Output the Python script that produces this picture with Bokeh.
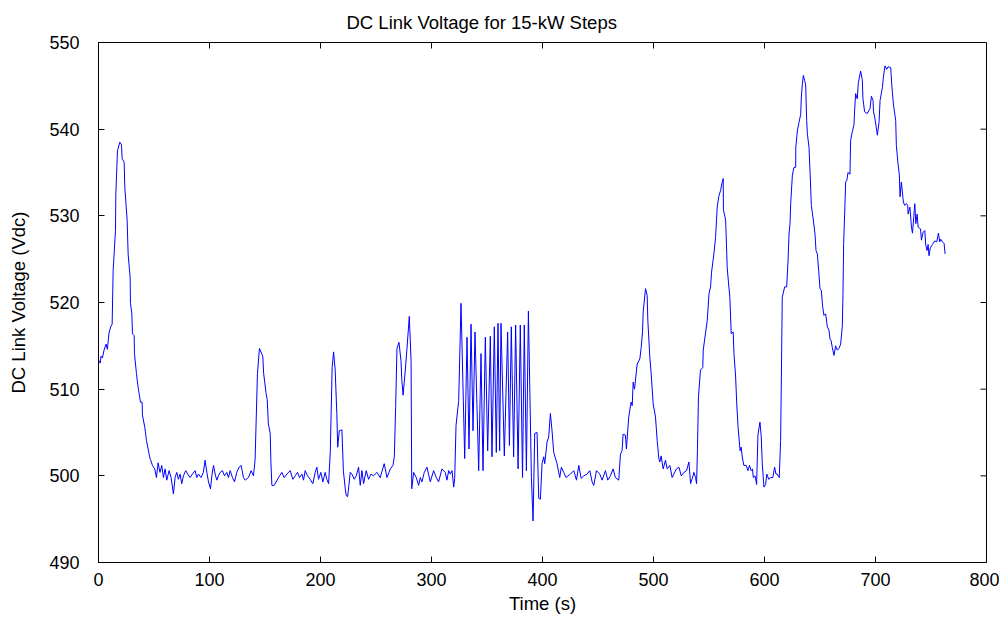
from bokeh.plotting import figure
from bokeh.models import Range1d, FixedTicker
from bokeh.embed import file_html
from bokeh.resources import INLINE

title_text = "DC Link Voltage for 15-kW Steps"
x_label = "Time (s)"
y_label = "DC Link Voltage (Vdc)"
x_ticks = [0, 100, 200, 300, 400, 500, 600, 700, 800]
y_ticks = [490, 500, 510, 520, 530, 540, 550]

time_s = [
    0.5, 1.5, 2.3, 3.5, 5.0, 6.8, 8.0, 9.5, 11.0, 12.3, 13.2, 15.3, 15.6, 17.1, 19.2, 20.7, 21.3, 23.1, 23.7, 25.8,
    26.7, 28.5, 28.8, 30.0, 30.6, 32.1, 32.4, 34.2, 35.7, 36.6, 37.8, 39.3, 39.6, 41.7, 43.2, 44.7, 46.4, 47.1, 48.6, 50.7,
    52.2, 53.7, 55.4, 57.0, 58.5, 60.0, 61.5, 63.6, 65.4, 67.5, 69.0, 70.5, 72.0, 73.5, 75.0, 76.5, 78.6, 80.4, 82.5, 84.6,
    87.0, 88.5, 90.0, 92.4, 94.5, 96.0, 97.6, 99.1, 100.9, 102.1, 103.6, 105.1, 106.6, 108.1, 109.6, 111.7, 113.5, 115.6, 117.1, 118.6,
    120.7, 122.5, 124.6, 126.7, 128.5, 130.6, 132.1, 135.1, 137.5, 139.6, 141.1, 143.2, 145.0, 148.0, 148.8, 151.0, 152.0, 153.0, 154.7, 155.3,
    156.2, 158.3, 162.2, 165.2, 167.3, 169.7, 172.7, 175.1, 177.2, 179.3, 181.1, 183.3, 184.7, 186.2, 188.3, 190.7, 193.1, 195.2, 196.7, 198.2,
    200.3, 202.1, 204.2, 205.7, 207.3, 208.8, 210.5, 211.8, 213.2, 214.7, 215.5, 216.9, 219.3, 220.6, 222.3, 223.2, 224.4, 225.6, 226.8, 228.3,
    230.4, 232.2, 234.3, 235.8, 237.3, 238.8, 241.2, 243.3, 245.4, 247.8, 250.8, 253.8, 257.4, 259.9, 262.9, 265.3, 266.5, 267.7, 268.9, 270.7,
    272.5, 273.3, 274.4, 276.4, 277.9, 280.0, 281.6, 282.2, 283.9, 286.3, 288.4, 289.9, 291.4, 293.5, 295.9, 298.9, 301.9, 304.3, 306.4, 309.4,
    312.4, 313.9, 315.5, 317.0, 318.5, 320.0, 320.9, 322.1, 324.5, 326.6, 329.9, 332.0, 333.8, 335.6, 337.4, 339.2, 342.5, 344.6, 346.4, 348.5,
    350.6, 353.0, 354.5, 356.6, 358.4, 359.9, 361.4, 362.6, 365.6, 368.6, 370.2, 371.9, 374.0, 375.8, 378.0, 380.0, 382.0, 383.6, 385.5, 387.3,
    390.0, 391.5, 393.0, 395.1, 396.6, 398.1, 399.6, 401.1, 402.0, 404.1, 405.6, 407.1, 408.6, 410.1, 413.1, 415.5, 417.0, 419.1, 421.2, 423.0,
    425.1, 428.2, 430.6, 432.7, 434.8, 437.2, 440.2, 442.6, 444.7, 446.2, 448.6, 451.6, 453.7, 456.7, 458.8, 461.2, 463.6, 465.7, 468.7, 470.2,
    471.7, 472.6, 474.7, 475.6, 477.7, 479.8, 480.8, 481.7, 482.9, 485.3, 487.7, 488.9, 490.1, 490.7, 492.8, 494.3, 494.9, 496.7, 497.9, 499.7,
    501.8, 503.3, 504.8, 505.7, 506.9, 508.7, 510.8, 512.3, 514.7, 516.8, 518.3, 520.7, 522.9, 525.0, 527.4, 529.8, 531.9, 533.4, 534.9, 536.4,
    537.9, 538.8, 539.6, 540.5, 542.3, 544.4, 544.8, 547.0, 548.4, 550.0, 551.4, 552.3, 554.4, 555.9, 557.4, 558.9, 560.4, 561.9, 562.8, 563.0,
    565.0, 565.8, 566.4, 567.9, 568.8, 570.0, 571.8, 572.5, 574.0, 575.0, 576.2, 578.0, 579.0, 579.9, 581.4, 583.5, 585.1, 586.5, 588.0, 589.2,
    589.9, 591.5, 592.9, 594.1, 595.9, 597.1, 598.0, 599.5, 601.0, 602.1, 603.8, 605.5, 607.5, 609.1, 610.3, 611.5, 613.3, 614.5, 615.2, 616.0,
    618.2, 620.0, 621.2, 622.1, 623.0, 623.6, 625.1, 626.6, 628.1, 628.2, 629.6, 631.1, 632.6, 633.2, 634.1, 635.0, 636.2, 637.1, 638.0, 638.6,
    640.1, 641.0, 642.2, 644.0, 645.5, 646.4, 647.6, 648.8, 650.0, 651.2, 652.4, 653.6, 655.1, 656.6, 658.1, 659.0, 660.0, 661.1, 662.6, 664.1,
    665.6, 667.1, 668.6, 670.1, 670.7, 671.3, 672.2, 673.1, 674.2, 675.2, 677.0, 677.6, 679.1, 680.6, 681.2, 682.1, 683.6, 684.5, 686.6, 688.1,
    688.7, 690.2, 692.6, 694.1, 695.0, 696.3, 697.8, 698.2, 699.3, 700.2, 701.7, 703.2, 704.1, 706.2, 707.1, 708.6, 710.1, 711.3, 713.7, 714.6,
    716.1, 718.2, 718.8, 720.3, 721.5, 722.1, 723.3, 725.1, 726.3, 728.1, 729.0, 729.4, 731.0, 732.4, 733.3, 734.5, 735.4, 736.3, 737.5, 738.4,
    740.5, 741.4, 742.9, 744.4, 745.3, 746.5, 747.4, 748.2, 749.4, 751.3, 753.4, 755.2, 756.7, 757.9, 758.8, 760.3, 761.8, 762.7,
]

voltage_vdc = [
    513.3, 513.0, 513.8, 513.6, 514.5, 515.2, 514.6, 516.5, 517.2, 517.5, 523.7, 528.3, 532.5, 537.5, 538.5, 538.2, 536.6, 536.2, 533.3, 529.5,
    525.6, 522.9, 519.9, 518.8, 516.4, 516.2, 514.1, 511.8, 510.2, 509.5, 508.5, 508.5, 507.0, 505.6, 504.1, 503.1, 502.0, 501.8, 501.2, 500.8,
    499.8, 501.5, 500.4, 501.2, 499.8, 500.8, 499.5, 500.6, 499.8, 497.9, 499.8, 500.4, 499.6, 500.2, 499.1, 500.0, 500.6, 500.2, 499.8, 500.2,
    500.6, 499.8, 500.2, 499.8, 500.4, 501.8, 500.4, 499.3, 498.5, 500.0, 501.2, 500.2, 499.5, 500.0, 500.4, 500.6, 500.0, 500.4, 499.8, 500.6,
    499.8, 499.3, 500.4, 501.0, 501.2, 499.8, 499.5, 499.8, 500.6, 500.0, 501.9, 511.8, 514.7, 513.8, 511.8, 509.5, 508.8, 506.0, 504.9, 501.6,
    498.9, 498.9, 499.8, 500.4, 499.8, 500.2, 500.6, 499.6, 500.0, 500.4, 499.8, 500.2, 499.5, 500.6, 500.0, 499.6, 499.1, 500.4, 501.0, 499.6,
    500.4, 499.3, 500.4, 499.6, 499.1, 502.7, 512.5, 514.3, 512.3, 507.2, 503.3, 505.2, 505.3, 500.6, 498.5, 497.7, 497.6, 498.9, 500.4, 500.2,
    499.6, 500.0, 501.0, 498.9, 500.6, 499.1, 500.6, 499.6, 500.2, 500.0, 500.4, 499.8, 501.4, 499.8, 500.8, 501.2, 502.2, 508.0, 514.7, 515.4,
    513.3, 511.0, 509.3, 512.2, 514.7, 518.4, 513.3, 498.5, 500.4, 499.8, 498.9, 499.8, 499.3, 500.4, 501.0, 499.3, 500.6, 499.8, 499.3, 500.8,
    500.4, 499.5, 500.6, 500.2, 500.6, 498.7, 499.7, 505.8, 508.7, 519.9, 502.0, 516.0, 503.1, 517.5, 505.2, 516.6, 500.6, 514.1, 500.6, 516.0,
    502.9, 516.1, 502.2, 517.2, 502.7, 517.6, 502.9, 517.6, 502.3, 516.6, 503.5, 517.2, 502.2, 517.4, 500.8, 517.4, 499.8, 517.4, 500.6, 519.0,
    499.8, 494.8, 504.9, 505.0, 497.4, 497.3, 501.4, 502.2, 501.4, 503.9, 504.5, 507.2, 505.2, 502.7, 501.4, 499.8, 501.0, 500.4, 499.8, 500.0,
    500.2, 500.6, 499.5, 501.2, 499.7, 500.0, 500.2, 500.6, 499.3, 498.9, 500.6, 500.2, 499.5, 500.6, 499.5, 500.0, 500.8, 499.8, 499.5, 502.5,
    502.9, 504.8, 504.7, 503.1, 506.8, 508.5, 508.1, 510.8, 510.0, 512.9, 513.5, 514.8, 516.6, 518.9, 521.6, 520.8, 517.9, 513.7, 511.8, 508.3,
    506.8, 504.1, 502.0, 501.6, 502.3, 500.8, 501.8, 500.8, 501.2, 499.8, 500.2, 500.8, 501.0, 500.0, 500.4, 500.6, 501.6, 499.1, 499.7, 500.4,
    499.8, 499.1, 503.0, 509.1, 512.2, 512.5, 514.5, 516.6, 517.9, 521.0, 521.8, 523.5, 525.6, 527.5, 531.0, 532.3, 532.9, 533.9, 534.3, 530.7,
    529.5, 526.4, 524.0, 521.8, 520.6, 516.4, 516.6, 514.1, 511.4, 508.3, 505.6, 502.9, 503.3, 502.2, 501.2, 501.2, 500.6, 501.2, 500.6, 500.8,
    499.8, 500.0, 499.0, 504.7, 506.2, 504.5, 501.4, 498.7, 499.0, 500.2, 499.6, 499.8, 499.8, 501.0, 500.2, 500.2, 499.8, 504.1, 511.2, 520.6,
    521.8, 521.8, 524.8, 527.9, 529.1, 531.4, 534.7, 535.6, 535.6, 537.9, 539.8, 540.8, 541.7, 543.7, 545.2, 546.2, 545.6, 545.1, 541.0, 539.5,
    537.9, 535.2, 531.2, 529.5, 527.9, 526.0, 525.6, 523.7, 521.6, 521.4, 519.5, 518.5, 518.7, 517.2, 516.8, 515.8, 515.6, 514.8, 513.9, 515.0,
    514.5, 514.7, 515.2, 517.2, 521.0, 526.8, 530.2, 533.9, 534.1, 535.0, 534.8, 538.7, 539.7, 540.5, 542.2, 544.1, 543.5, 545.3, 546.7, 545.7,
    543.5, 542.0, 541.8, 542.2, 542.3, 543.8, 543.3, 542.0, 541.4, 540.6, 539.3, 540.8, 543.3, 544.8, 546.0, 547.3, 546.9, 547.2, 547.1, 545.2,
    542.9, 541.0, 538.1, 536.0, 534.7, 532.2, 533.9, 531.6, 531.2, 531.4, 531.2, 530.2, 531.0, 528.7, 528.0, 529.9, 531.4, 529.1, 530.2, 528.7,
    528.5, 527.2, 528.1, 528.3, 526.6, 526.0, 526.7, 525.4, 526.3, 526.7, 527.1, 527.0, 528.0, 527.0, 527.3, 527.0, 526.8, 525.6,
]

FONT = "Liberation Sans"

p = figure(
    width=999, height=618,
    x_range=Range1d(0, 800), y_range=Range1d(490, 550),
    output_backend="svg", toolbar_location=None,
    min_border_left=98, min_border_right=13, min_border_top=42, min_border_bottom=56,
    title=title_text,
)
p.title.align = "left"
p.title.offset = 248
p.title.text_font = FONT
p.title.text_font_size = "18.5px"
p.title.text_font_style = "normal"
p.title.text_color = "black"
p.title.standoff = 19

p.xgrid.visible = False
p.ygrid.visible = False
p.outline_line_color = "black"
p.outline_line_width = 1
p.background_fill_color = "white"
p.border_fill_color = "white"

p.line(time_s, voltage_vdc, line_color="#0000ff", line_width=1)

# inward tick marks on the top and right frame edges
x_inner = x_ticks[1:-1]
y_inner = y_ticks[1:-1]
p.ray(x=x_inner, y=[p.y_range.end] * len(x_inner), length=6, length_units="screen",
      angle=-90, angle_units="deg", line_color="black", line_width=1)
p.ray(x=[p.x_range.end] * len(y_inner), y=y_inner, length=6, length_units="screen",
      angle=180, angle_units="deg", line_color="black", line_width=1)


def style_axis(ax, ticks):
    ax.ticker = FixedTicker(ticks=ticks)
    ax.major_tick_in = 6
    ax.major_tick_out = 0
    ax.minor_tick_in = 0
    ax.minor_tick_out = 0
    ax.axis_line_color = "black"
    ax.major_tick_line_color = "black"
    ax.major_label_text_font = FONT
    ax.major_label_text_font_size = "18px"
    ax.major_label_text_color = "black"
    ax.axis_label_text_font = FONT
    ax.axis_label_text_font_size = "18.5px"
    ax.axis_label_text_font_style = "normal"
    ax.axis_label_text_color = "black"


xa = p.xaxis[0]
style_axis(xa, x_ticks)
xa.axis_label = x_label
xa.major_label_standoff = 10
xa.axis_label_standoff = 4

ya = p.yaxis[0]
style_axis(ya, y_ticks)
ya.axis_label = y_label
ya.major_label_standoff = 19
ya.axis_label_standoff = 17

open("out.html", "w").write(file_html(p, INLINE))
